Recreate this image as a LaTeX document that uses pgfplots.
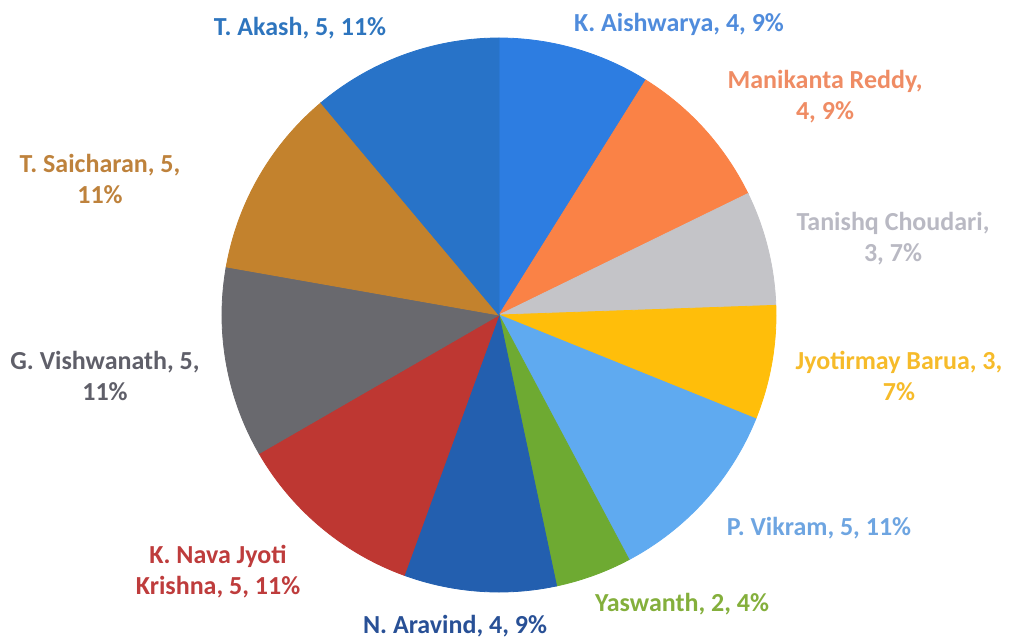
\documentclass[border=0pt]{standalone}
\usepackage{pgfplots}
\pgfplotsset{compat=1.18}
\usepackage{pgfplotstable}
\usepackage{fontspec}
\setmainfont{Carlito}

% slice colours
\definecolor{sl0}{RGB}{45,125,225}
\definecolor{sl1}{RGB}{250,130,70}
\definecolor{sl2}{RGB}{196,196,200}
\definecolor{sl3}{RGB}{255,190,10}
\definecolor{sl4}{RGB}{95,170,240}
\definecolor{sl5}{RGB}{110,170,50}
\definecolor{sl6}{RGB}{35,95,175}
\definecolor{sl7}{RGB}{190,55,50}
\definecolor{sl8}{RGB}{105,105,110}
\definecolor{sl9}{RGB}{195,130,45}
\definecolor{sl10}{RGB}{40,115,200}
% label colours
\definecolor{lA}{RGB}{80,140,220}
\definecolor{lB}{RGB}{239,140,100}
\definecolor{lC}{RGB}{185,185,195}
\definecolor{lD}{RGB}{246,187,42}
\definecolor{lE}{RGB}{110,165,225}
\definecolor{lF}{RGB}{132,175,60}
\definecolor{lG}{RGB}{40,80,150}
\definecolor{lH}{RGB}{190,60,60}
\definecolor{lI}{RGB}{95,95,105}
\definecolor{lJ}{RGB}{190,130,60}
\definecolor{lK}{RGB}{46,117,190}

% v = value, c = sum of the values before it (clockwise from the top)
\pgfplotstableread{
name       k  v  c  px  py
Aishwarya  0  4  0  499 315
Manikanta  1  4  4  499 315
Tanishq    2  3  8  499 315
Jyotirmay  3  3  11 499 315
Vikram     4  5  14 499 315
Yaswanth   5  2  19 499 315
Aravind    6  4  21 499 315
Nava       7  5  25 499 315
Vishwanath 8  5  30 499 315
Saicharan  9  5  35 499 315
Akash      10 5  40 499 315
}\slices

\begin{document}
\begin{tikzpicture}[lbl/.style={font=\bfseries\fontsize{13}{15.5}\selectfont, align=center, inner sep=0pt}]
\begin{axis}[
  width=506.5pt, height=319pt, scale only axis,
  xmin=0, xmax=1013, ymin=0, ymax=638, y dir=reverse,
  hide axis, clip=false,
]
\addplot[scatter, only marks, mark=*, mark size=0pt,
  visualization depends on={\thisrow{v} \as \val},
  visualization depends on={\thisrow{c} \as \cum},
  visualization depends on={\thisrow{k} \as \kk},
  scatter/@pre marker code/.code={
    \pgfmathsetmacro\aa{90-8*\cum}
    \pgfmathsetmacro\bb{90-8*(\cum+\val)}
    \pgfmathtruncatemacro\ki{\kk}
    \fill[sl\ki] (0,0) -- (\aa:138.5pt) arc[start angle=\aa, end angle=\bb, radius=138.5pt] -- cycle;
  },
  scatter/@post marker code/.code={},
] table[x=px, y=py] \slices;

\node[lbl, text=lK] at (axis cs:300,28) {T. Akash, 5, 11\%};
\node[lbl, text=lA] at (axis cs:679,24) {K. Aishwarya, 4, 9\%};
\node[lbl, text=lB] at (axis cs:825,97) {Manikanta Reddy,\\4, 9\%};
\node[lbl, text=lC] at (axis cs:893,239) {Tanishq Choudari,\\3, 7\%};
\node[lbl, text=lD] at (axis cs:899,376) {Jyotirmay Barua, 3,\\7\%};
\node[lbl, text=lE] at (axis cs:819,528) {P. Vikram, 5, 11\%};
\node[lbl, text=lF] at (axis cs:682,604) {Yaswanth, 2, 4\%};
\node[lbl, text=lG] at (axis cs:455,626) {N. Aravind, 4, 9\%};
\node[lbl, text=lH] at (axis cs:218,572) {K. Nava Jyoti\\Krishna, 5, 11\%};
\node[lbl, text=lI] at (axis cs:105,376) {G. Vishwanath, 5,\\11\%};
\node[lbl, text=lJ] at (axis cs:100,179) {T. Saicharan, 5,\\11\%};

\coordinate (c1) at (axis cs:0,0);
\coordinate (c2) at (axis cs:1013,638);
\end{axis}
\pgfresetboundingbox
\path[use as bounding box] (c1) rectangle (c2);
\end{tikzpicture}
\end{document}
